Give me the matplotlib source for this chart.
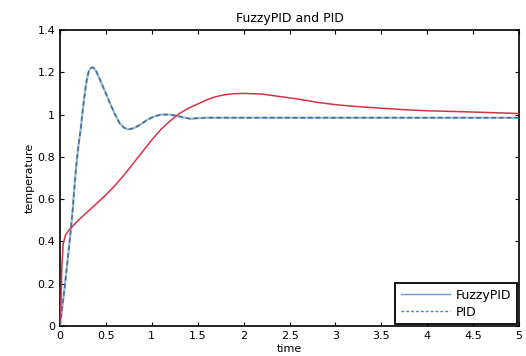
import matplotlib
matplotlib.use("Agg")
import matplotlib.pyplot as plt
import numpy as np

# FuzzyPID response
t_fuzzy = [0, 0.01, 0.02, 0.035, 0.06, 0.1, 0.2, 0.3, 0.4, 0.5, 0.6, 0.7, 0.8, 0.9,
           1.0, 1.1, 1.2, 1.3, 1.4, 1.5, 1.6, 1.7, 1.8, 1.9, 2.0, 2.2, 2.4, 2.6, 2.8,
           3.0, 3.2, 3.5, 3.8, 4.0, 4.5, 5.0]
y_fuzzy = [0, 0.10, 0.28, 0.39, 0.43, 0.455, 0.50, 0.54, 0.58, 0.62, 0.665, 0.715, 0.77, 0.825,
           0.88, 0.93, 0.97, 1.005, 1.03, 1.05, 1.07, 1.085, 1.094, 1.099, 1.10, 1.097, 1.085, 1.073, 1.058,
           1.047, 1.039, 1.03, 1.022, 1.018, 1.012, 1.005]

# PID response
t_pid = [0, 0.05, 0.1, 0.117, 0.14, 0.163, 0.18, 0.2, 0.225, 0.25, 0.27, 0.29, 0.31, 0.33,
         0.356, 0.38, 0.4, 0.436, 0.49, 0.545, 0.6, 0.65, 0.7, 0.744, 0.8, 0.87, 0.95, 1.02,
         1.1, 1.2, 1.31, 1.42, 1.5, 1.6, 2.0, 3.0, 4.0, 5.0]
y_pid = [0, 0.18, 0.38, 0.45, 0.56, 0.69, 0.77, 0.85, 0.93, 1.03, 1.10, 1.16, 1.20, 1.218,
         1.224, 1.215, 1.20, 1.164, 1.11, 1.053, 1.0, 0.959, 0.937, 0.930, 0.935, 0.951, 0.975, 0.99,
         1.0, 1.0, 0.99, 0.98, 0.983, 0.985, 0.985, 0.985, 0.985, 0.985]

title = "FuzzyPID and PID"
xlabel = "time"
ylabel = "temperature"
xticks = [0, 0.5, 1, 1.5, 2, 2.5, 3, 3.5, 4, 4.5, 5]
yticks = [0, 0.2, 0.4, 0.6, 0.8, 1, 1.2, 1.4]

plt.rcParams['font.family'] = ['DejaVu Sans']

fig = plt.figure(figsize=(5.26, 3.56), dpi=100)
ax = fig.add_axes([60/526, 1 - 326/356, (519-60)/526, (326-30)/356])

ax.plot(t_fuzzy, y_fuzzy, color='#d93048', lw=1.1, zorder=3)
ax.plot(t_pid, y_pid, color='#9fbcc4', lw=1.6, zorder=2)
ax.plot(t_pid, y_pid, color='#3a6ea8', lw=1.1, ls=(0, (3, 2)), zorder=4)

# legend proxies
l1, = ax.plot([], [], color='#6a98d8', lw=1.0)
l2, = ax.plot([], [], color='#4a7ed0', lw=1.0, ls=(0, (2, 1.5)))
leg = ax.legend([l1, l2], ['FuzzyPID', 'PID'], loc='lower right', fontsize=9,
                fancybox=False, framealpha=1, edgecolor='black',
                borderaxespad=0.15, handlelength=3.9, labelspacing=0.3,
                borderpad=0.45, handletextpad=0.5)
leg.get_frame().set_linewidth(1.3)

ax.set_xlim(0, 5)
ax.set_ylim(0, 1.4)
ax.set_xticks(xticks)
ax.set_xticklabels([f"{v:g}" for v in xticks])
ax.set_yticks(yticks)
ax.set_yticklabels([f"{v:g}" for v in yticks])
ax.tick_params(direction='in', length=3, labelsize=8, top=True, right=True, width=0.8)
for s in ax.spines.values():
    s.set_linewidth(1.2)
ax.set_title(title, fontsize=9, pad=6)
ax.set_xlabel(xlabel, fontsize=8, labelpad=2)
ax.set_ylabel(ylabel, fontsize=8, labelpad=2)

fig.savefig("out.png", dpi=100)
